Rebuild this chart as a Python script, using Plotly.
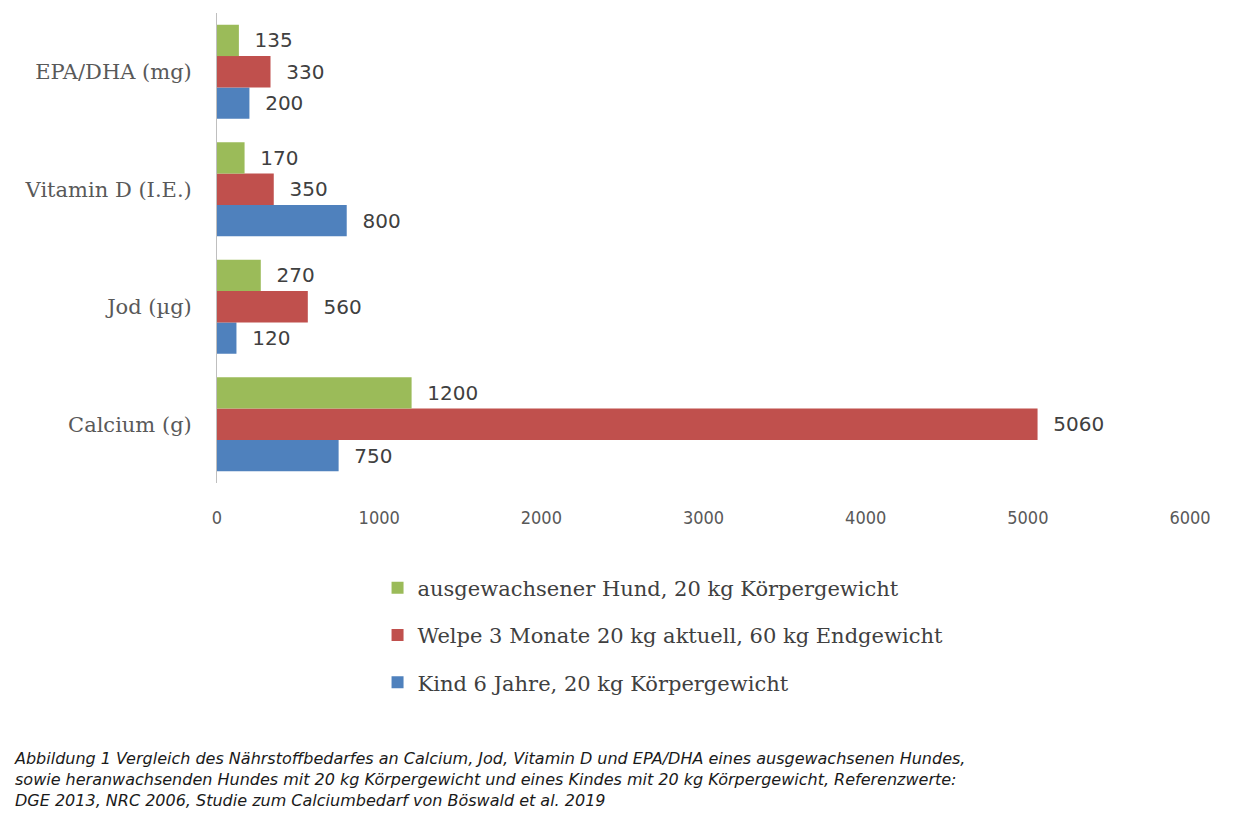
import plotly.graph_objects as go

categories = ["Calcium (g)", "Jod (µg)", "Vitamin D (I.E.)", "EPA/DHA (mg)"]
kind = [750, 120, 800, 200]
welpe = [5060, 560, 350, 330]
hund = [1200, 270, 170, 135]
series_names = [
    "Kind 6 Jahre, 20 kg Körpergewicht",
    "Welpe 3 Monate 20 kg aktuell, 60 kg Endgewicht",
    "ausgewachsener Hund, 20 kg Körpergewicht",
]
colors = ["#4F81BD", "#C0504D", "#9BBB59"]
legend_ranks = [3, 2, 1]
tick_vals = [0, 1000, 2000, 3000, 4000, 5000, 6000]
caption = ("Abbildung 1 Vergleich des Nährstoffbedarfes an Calcium, Jod, Vitamin D und EPA/DHA eines ausgewachsenen Hundes,<br>"
           "sowie heranwachsenden Hundes mit 20 kg Körpergewicht und eines Kindes mit 20 kg Körpergewicht, Referenzwerte:<br>"
           "DGE 2013, NRC 2006, Studie zum Calciumbedarf von Böswald et al. 2019")

fig = go.Figure()
for i, (name, vals, col, rk) in enumerate(zip(series_names, [kind, welpe, hund], colors, legend_ranks)):
    fig.add_trace(go.Bar(
        y=categories, x=vals, name=name, orientation="h",
        marker=dict(color=col, line=dict(width=0)),
        text=vals, texttemplate="\u00a0\u00a0%{x}", textposition="outside",
        textfont=dict(family="DejaVu Sans", size=20, color="#404040"),
        cliponaxis=False, legendgroup=f"g{i}", legendrank=rk,
    ))

fig.update_layout(
    width=1250, height=833,
    paper_bgcolor="white", plot_bgcolor="white",
    margin=dict(l=217, r=60, t=13, b=350),
    barmode="group", bargap=0.2, bargroupgap=0,
    showlegend=True,
    legend=dict(
        x=0.165, y=-0.18, xanchor="left", yanchor="top",
        traceorder="grouped", tracegroupgap=17,
        font=dict(family="DejaVu Serif", size=21, color="#404040"),
        bgcolor="rgba(0,0,0,0)",
    ),
    xaxis=dict(
        range=[0, 6000], tickvals=tick_vals, showgrid=False, zeroline=False,
        showline=False, ticks="", ticklabelstandoff=22,
        tickfont=dict(family="Liberation Sans Narrow, DejaVu Sans Condensed, Arial Narrow, sans-serif", size=18, color="#595959"),
    ),
    yaxis=dict(
        showgrid=False, zeroline=False, showline=True, linecolor="#BFBFBF", linewidth=1,
        ticks="", ticklabelstandoff=20,
        tickfont=dict(family="DejaVu Serif", size=21, color="#595959"),
    ),
)

fig.add_annotation(
    text=caption, xref="paper", yref="paper", x=-205/973, y=-0.562,
    xanchor="left", yanchor="top", align="left", showarrow=False,
    font=dict(family="DejaVu Sans", size=16, color="#1a1a1a", style="italic"),
)

fig.write_html("out.html")
